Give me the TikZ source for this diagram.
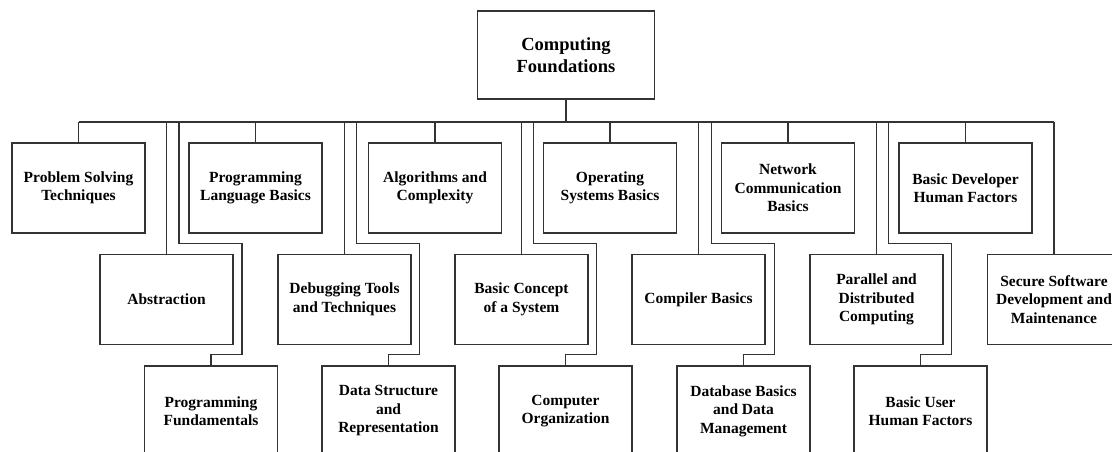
\documentclass[tikz,border=0pt]{standalone}
\usepackage{fontspec}
\setmainfont{Liberation Serif}
\usetikzlibrary{calc}
\begin{document}
\begin{tikzpicture}[x=1pt,y=-1pt,
  box/.style={draw=black!80, line width=1.2pt, minimum width=133pt, minimum height=90pt,
    align=center, inner sep=0pt, text=black,
    font=\fontsize{15.5}{18.5}\selectfont\bfseries},
  rootbox/.style={box, minimum width=177pt, minimum height=88pt,
    font=\fontsize{18.5}{22}\selectfont\bfseries},
  conn/.style={draw=black!80, line width=1.2pt}]
\useasboundingbox (0,0) rectangle (1112,452);
% root
\node[rootbox] (root) at (566,55) {Computing\\Foundations};
\coordinate (bus) at (566,122);
% row 1
\node[box] (ps)  at (78.5,188) {Problem Solving\\Techniques};
\node[box] (plb) at (255.5,188) {Programming\\Language Basics};
\node[box] (alg) at (435,188) {Algorithms and\\Complexity};
\node[box] (os)  at (610,188) {Operating\\Systems Basics};
\node[box] (nc)  at (788,188) {Network\\Communication\\Basics};
\node[box] (bd)  at (965.5,188) {Basic Developer\\Human Factors};
% row 2
\node[box] (abs)  at (166.5,299.5) {Abstraction};
\node[box] (dbg)  at (344.5,299.5) {Debugging Tools\\and Techniques};
\node[box] (bc)   at (521.5,299.5) {Basic Concept\\of a System};
\node[box] (comp) at (698.5,299.5) {Compiler Basics};
\node[box] (par)  at (876.5,299.5) {Parallel and\\Distributed\\Computing};
\node[box] (sec)  at (1054,299.5) {Secure Software\\Development and\\Maintenance};
% row 3
\node[box] (pf) at (211,411) {Programming\\Fundamentals};
\node[box] (ds) at (388.5,411) {Data Structure\\and\\Representation};
\node[box] (co) at (565.5,411) {Computer\\Organization};
\node[box] (db) at (743.5,411) {Database Basics\\and Data\\Management};
\node[box] (bu) at (920.5,411) {Basic User\\Human Factors};
% connectors
\draw[conn] (root.south) -- (bus);
\draw[conn] (ps.north |- bus) -- (sec.north |- bus);
\foreach \n in {ps,plb,alg,os,nc,bd,abs,dbg,bc,comp,par,sec}
  \draw[conn] (\n.north) -- (\n.north |- bus);
\foreach \n in {pf,ds,co,db,bu} {
  \coordinate (\n a) at ($(\n.north)+(-32,0)$);
  \draw[conn] (\n.north) -- ++(0,-11) -- ++(31,0) -- ++(0,-111) -- ++(-63,0) -- (\n a |- bus);
}
\end{tikzpicture}
\end{document}
